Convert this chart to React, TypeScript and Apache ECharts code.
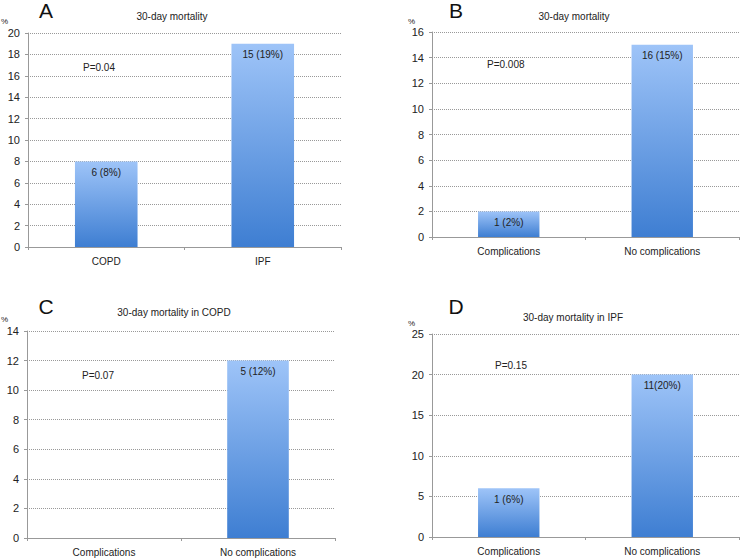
import React, { useEffect, useRef } from "react";
import * as echarts from "echarts";

const catsA = ["COPD", "IPF"];
const catsBCD = ["Complications", "No complications"];
const valuesA = [8, 19];
const valuesB = [2, 15];
const valuesC = [0, 12];
const valuesD = [6, 20];
const labelsA = ["6 (8%)", "15 (19%)"];
const labelsB = ["1 (2%)", "16 (15%)"];
const labelsC = ["", "5 (12%)"];
const labelsD = ["1 (6%)", "11(20%)"];
const titles = ["30-day mortality", "30-day mortality", "30-day mortality in COPD", "30-day mortality in IPF"];
const letters = ["A", "B", "C", "D"];
const pValues = ["P=0.04", "P=0.008", "P=0.07", "P=0.15"];
const yMax = [20, 16, 14, 25];
const yInterval = [2, 2, 2, 5];

const FONT = "Liberation Sans, Arial, sans-serif";

export default function App() {
  const ref = useRef<HTMLDivElement>(null);
  useEffect(() => {
    if (!ref.current) return;
    const chart = echarts.init(ref.current, undefined, { renderer: "svg" });
    const grids = [
      { left: 28, right: 399, top: 33, bottom: 311 },
      { left: 432, right: 1, top: 32, bottom: 321 },
      { left: 27, right: 405, top: 331, bottom: 20 },
      { left: 432, right: 1, top: 334, bottom: 21 },
    ];
    const cats = [catsA, catsBCD, catsBCD, catsBCD];
    const vals = [valuesA, valuesB, valuesC, valuesD];
    const labs = [labelsA, labelsB, labelsC, labelsD];
    const grad = new echarts.graphic.LinearGradient(0, 0, 0, 1, [
      { offset: 0, color: "#9ec4f8" },
      { offset: 1, color: "#3e7ed2" },
    ]);
    const textStyle = { fontFamily: FONT, fontSize: 10, color: "#222" };
    const letterPos = [
      [46, 0], [456, 0], [46, 296], [456, 296],
    ];
    const titlePos = [
      [172, 16], [574, 16], [174, 312], [573, 317],
    ];
    const pctPos = [
      [1, 21], [408, 21], [1, 319], [408, 323],
    ];
    const pPos = [
      [83, 67], [487, 64], [82, 375], [495, 365],
    ];
    const graphic: any[] = [];
    for (let i = 0; i < 4; i++) {
      graphic.push({
        type: "text", x: letterPos[i][0], y: letterPos[i][1],
        style: { text: letters[i], font: `21px ${FONT}`, fill: "#111", textAlign: "center", textVerticalAlign: "top" },
      });
      graphic.push({
        type: "text", x: titlePos[i][0], y: titlePos[i][1],
        style: { text: titles[i], font: `10px ${FONT}`, fill: "#222", textAlign: "center", textVerticalAlign: "middle" },
      });
      graphic.push({
        type: "text", x: pctPos[i][0], y: pctPos[i][1],
        style: { text: "%", font: `8px ${FONT}`, fill: "#222", textAlign: "left", textVerticalAlign: "middle" },
      });
      graphic.push({
        type: "text", x: pPos[i][0], y: pPos[i][1],
        style: { text: pValues[i], font: `10px ${FONT}`, fill: "#222", textAlign: "left", textVerticalAlign: "middle" },
      });
    }
    chart.setOption({
      animation: false,
      backgroundColor: "#fff",
      grid: grids,
      xAxis: grids.map((_, i) => ({
        type: "category",
        gridIndex: i,
        data: cats[i],
        axisLine: { lineStyle: { color: "#999" } },
        axisTick: { show: true, length: 3, lineStyle: { color: "#999" } },
        axisLabel: { ...textStyle, margin: 9 },
      })),
      yAxis: grids.map((_, i) => ({
        type: "value",
        gridIndex: i,
        min: 0,
        max: yMax[i],
        interval: yInterval[i],
        axisLine: { show: true, lineStyle: { color: "#999" } },
        axisTick: { show: true, length: 3, lineStyle: { color: "#999" } },
        axisLabel: { ...textStyle, fontSize: 11, margin: 8 },
        splitLine: { show: true, lineStyle: { color: "#999", type: "dotted", width: 1 } },
      })),
      series: grids.map((_, i) => ({
        type: "bar",
        xAxisIndex: i,
        yAxisIndex: i,
        data: vals[i],
        barWidth: "40%",
        itemStyle: { color: grad },
        label: {
          show: true,
          position: "insideTop",
          distance: 6,
          ...textStyle,
          formatter: (p: any) => labs[i][p.dataIndex],
        },
      })),
      graphic,
    });
    return () => chart.dispose();
  }, []);
  return <div ref={ref} style={{ width: 740, height: 558, position: "absolute", left: 0, top: 0 }} />;
}
